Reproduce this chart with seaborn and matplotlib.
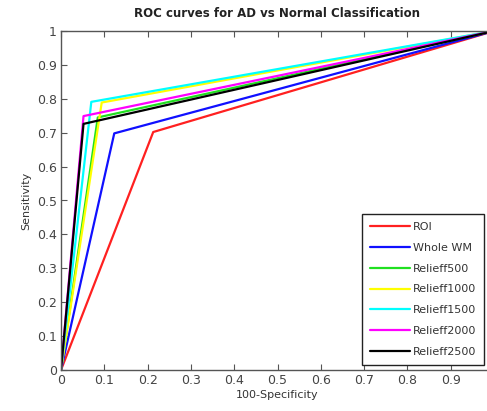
import matplotlib
matplotlib.use("Agg")
import matplotlib.pyplot as plt
import seaborn as sns
import pandas as pd

labels = ["ROI", "Whole WM", "Relieff500", "Relieff1000", "Relieff1500", "Relieff2000", "Relieff2500"]
colors = ["#ff2020", "#1010ff", "#20e020", "#ffff00", "#00ffff", "#ff00ff", "#000000"]
fpr_knee = [0.213, 0.123, 0.085, 0.094, 0.070, 0.052, 0.052]
tpr_knee = [0.702, 0.698, 0.745, 0.789, 0.791, 0.749, 0.726]

rows = []
for lab, fx, ty in zip(labels, fpr_knee, tpr_knee):
    for i, (x, y) in enumerate([(0.0, 0.0), (fx, ty), (1.0, 1.0)]):
        rows.append({"curve": lab, "order": i, "fpr": x, "tpr": y})
df = pd.DataFrame(rows)

sns.set_style("ticks")
fig = plt.figure(figsize=(4.87, 4.11), dpi=100)
ax = fig.add_axes([61/487, 41/411, (494-61)/487, (370-31)/411])

sns.lineplot(data=df, x="fpr", y="tpr", hue="curve", hue_order=labels,
             palette=colors, sort=False, estimator=None, units="curve",
             linewidth=1.6, ax=ax)

ax.set_xlim(0, 1)
ax.set_ylim(0, 1)
ax.set_xticks([i/10 for i in range(10)])
ax.set_xticklabels(["0"] + [f"0.{i}" for i in range(1, 10)])
ax.set_yticks([i/10 for i in range(11)])
ax.set_yticklabels(["0"] + [f"0.{i}" for i in range(1, 10)] + ["1"])
ax.tick_params(direction="in", top=True, right=True, length=4, width=0.8,
               labelsize=9, labelcolor="#444444", color="#555555", pad=3)
for s in ax.spines.values():
    s.set_color("#555555")
    s.set_linewidth(1.0)

ax.set_xlabel("100-Specificity", fontsize=8, color="#333333", labelpad=2)
ax.set_ylabel("Sensitivity", fontsize=8, color="#333333", labelpad=4)
ax.set_title("ROC curves for AD vs Normal Classification", fontsize=8.5,
             fontweight="bold", color="#222222", pad=10)

leg = ax.legend(loc="lower left", bbox_to_anchor=(0.695, 0.015), fontsize=8,
                frameon=True, fancybox=False, framealpha=1, edgecolor="#222222",
                handlelength=3.6, labelspacing=0.98, borderpad=0.7,
                handletextpad=0.3, borderaxespad=0)
for t in leg.get_texts():
    t.set_color("#333333")

fig.savefig("out.png", dpi=100)
